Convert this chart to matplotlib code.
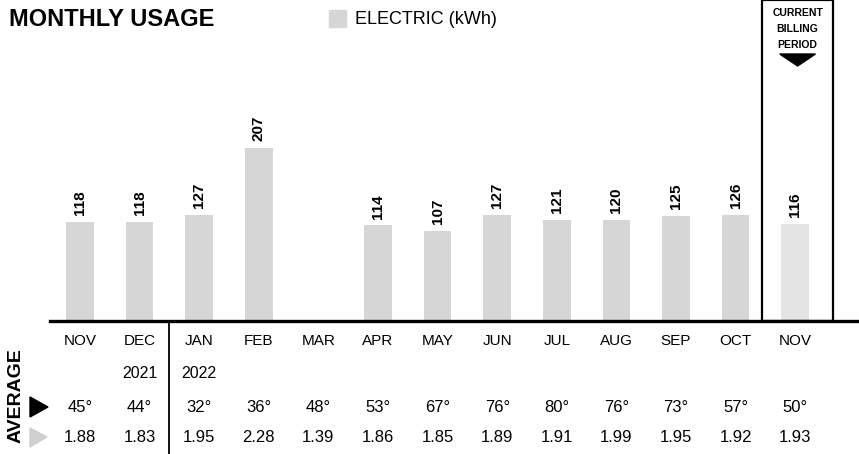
import numpy as np
import matplotlib
matplotlib.use('Agg')
import matplotlib.pyplot as plt
from matplotlib.transforms import blended_transform_factory
from matplotlib.patches import Rectangle, Polygon

months = ['NOV', 'DEC', 'JAN', 'FEB', 'MAR', 'APR', 'MAY', 'JUN', 'JUL', 'AUG', 'SEP', 'OCT', 'NOV']
kwh = [118, 118, 127, 207, np.nan, 114, 107, 127, 121, 120, 125, 126, 116]
years = ['', '2021', '2022', '', '', '', '', '', '', '', '', '', '']
temps = [45, 44, 32, 36, 48, 53, 67, 76, 80, 76, 73, 57, 50]
daily = ['1.88', '1.83', '1.95', '2.28', '1.39', '1.86', '1.85', '1.89', '1.91', '1.99', '1.95', '1.92', '1.93']

W, H = 859, 454
plt.rcParams['font.family'] = ['Liberation Sans', 'DejaVu Sans']

fig = plt.figure(figsize=(W / 100, H / 100), dpi=100)
fig.patch.set_facecolor('white')

# bar axes: index 0 -> x=80px, step 59.6px ; baseline at y=321px
x0, step = 80, 59.6
left = x0 - 0.5 * step
right = x0 + 13.05 * step
base = 321
scale = 0.838
ax = fig.add_axes([left / W, 1 - base / H, (right - left) / W, base / H])
ax.set_xlim(-0.5, 13.05)
ax.set_ylim(0, base / scale)
ax.axis('off')

x = np.arange(len(months))
cols = ['#d6d6d6'] * 12 + ['#e4e4e4']
ax.bar(x, kwh, width=0.46, color=cols, edgecolor='none', zorder=2)
for i, v in enumerate(kwh):
    if np.isnan(v):
        continue
    ax.annotate(str(int(v)), (i, v), xytext=(0, 5), textcoords='offset points',
                rotation=90, ha='center', va='bottom', fontsize=11, fontweight='bold')

# baseline
ax.axhline(0, color='black', lw=2.4, zorder=3, clip_on=False)

# current billing period box
ax.add_patch(Rectangle((11.45, 0), 1.18, 1.0, transform=blended_transform_factory(ax.transData, ax.transAxes),
                       fill=False, edgecolor='black', lw=1.6, clip_on=False, zorder=3))
bt = blended_transform_factory(ax.transData, fig.transFigure)
cx = 12.04
for txt, yy in zip(['CURRENT', 'BILLING', 'PERIOD'], [13, 29, 45]):
    ax.text(cx, 1 - yy / H, txt, transform=bt, ha='center', va='center',
            fontsize=7.5, fontweight='bold')
ax.add_patch(Polygon([(cx - 0.3, 1 - 54 / H), (cx + 0.3, 1 - 54 / H), (cx, 1 - 66 / H)],
                     closed=True, color='black', transform=bt, clip_on=False))

# rows of labels
for i in range(len(months)):
    ax.text(i, 1 - 341 / H, months[i], transform=bt, ha='center', va='center', fontsize=11)
    if years[i]:
        ax.text(i, 1 - 373 / H, years[i], transform=bt, ha='center', va='center', fontsize=11.5)
    ax.text(i, 1 - 407 / H, f'{temps[i]}°', transform=bt, ha='center', va='center', fontsize=12)
    ax.text(i, 1 - 437 / H, daily[i], transform=bt, ha='center', va='center', fontsize=12)

# separator between 2021 and 2022
ax.plot([1.5, 1.5], [0, 1 - base / H], transform=bt, color='black', lw=1.3, clip_on=False)

# left side labels
fig.text(16 / W, 1 - 396 / H, 'AVERAGE', rotation=90, ha='center', va='center',
         fontsize=14, fontweight='bold')
fig.add_artist(Polygon([(30 / W, 1 - 397 / H), (30 / W, 1 - 417 / H), (48 / W, 1 - 407 / H)],
                       closed=True, color='black', transform=fig.transFigure))
fig.add_artist(Polygon([(30 / W, 1 - 428 / H), (30 / W, 1 - 447 / H), (47 / W, 1 - 437 / H)],
                       closed=True, color='#cfcfcf', transform=fig.transFigure))

# title and legend
fig.text(9 / W, 1 - 20 / H, 'MONTHLY USAGE', ha='left', va='center', fontsize=17, fontweight='bold')
fig.add_artist(Rectangle((329 / W, 1 - 27 / H), 17 / W, 17 / H, color='#d6d6d6',
                         transform=fig.transFigure))
fig.text(355 / W, 1 - 20 / H, 'ELECTRIC (kWh)', ha='left', va='center', fontsize=13)

fig.savefig('out.png', dpi=100)
